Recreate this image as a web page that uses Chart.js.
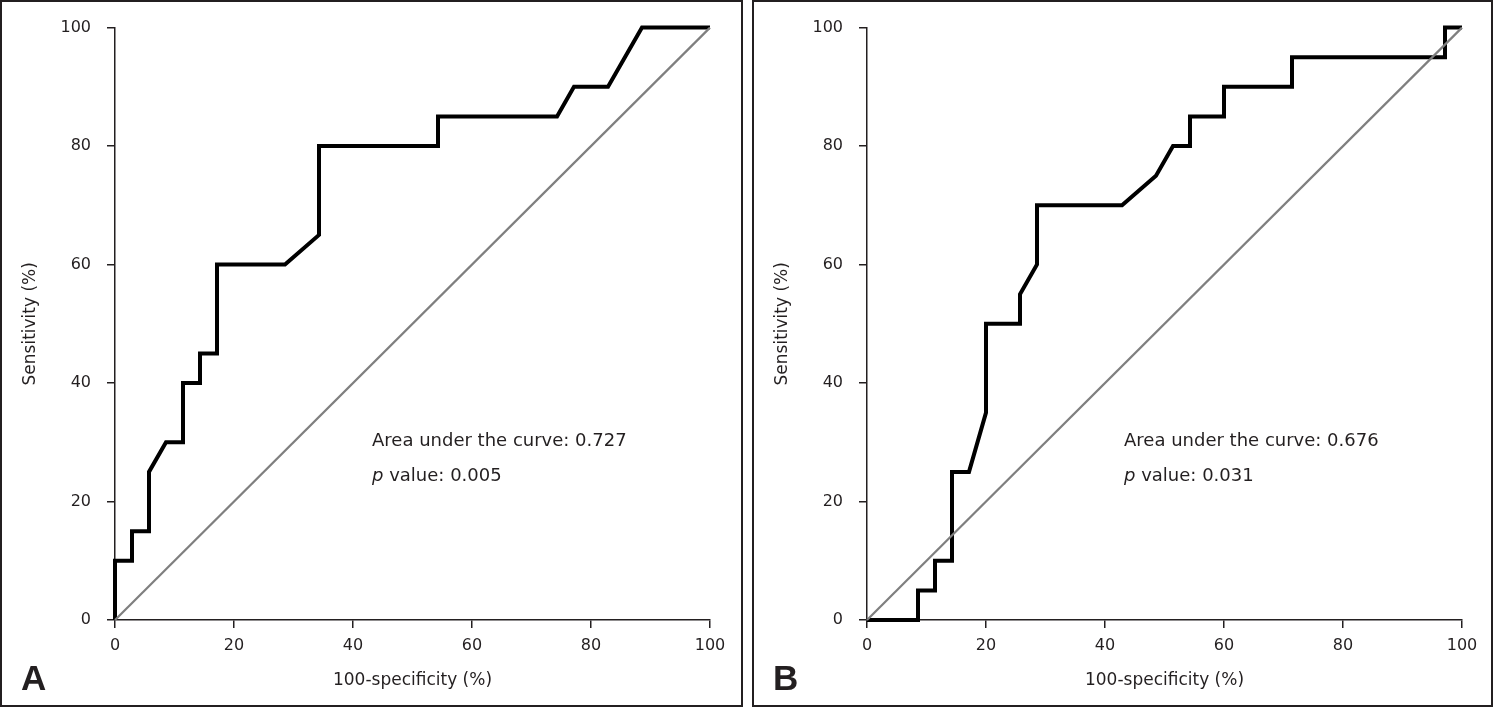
<!DOCTYPE html>
<html lang="en">
<head>
    <meta charset="UTF-8">
    <title>ROC curves A and B</title>
    <script src="https://cdn.jsdelivr.net/npm/chart.js"></script>
    <style>
        body { margin: 0; background: #fff; }
        .panel { position: absolute; top: 0; height: 703px; border: 2px solid #231f20; background: #fff; }
        .panel canvas { display: block; }
        .tag { position: absolute; font: bold 35px "Liberation Sans", Arial, sans-serif; line-height: 35px; color: #231f20; }
    </style>
</head>
<body>
    <div class="panel" id="panelA" style="left:0; width:739px;">
        <canvas id="rocA" width="739" height="703"></canvas>
    </div>
    <div class="panel" id="panelB" style="left:752px; width:737px;">
        <canvas id="rocB" width="737" height="703"></canvas>
    </div>
    <div class="tag" style="left:21px; top:660px;">A</div>
    <div class="tag" style="left:773px; top:660px;">B</div>

    <script>
        // ROC curve A (100-specificity %, sensitivity %)
        const rocA_fpr = [0, 0, 2.86, 2.86, 5.71, 5.71, 8.57, 11.43, 11.43, 14.29, 14.29, 17.14, 17.14, 28.57, 34.29, 34.29, 54.29, 54.29, 74.29, 77.14, 82.86, 88.57, 100];
        const rocA_tpr = [0, 10, 10, 15, 15, 25, 30, 30, 40, 40, 45, 45, 60, 60, 65, 80, 80, 85, 85, 90, 90, 100, 100];

        // ROC curve B
        const rocB_fpr = [0, 8.57, 8.57, 11.43, 11.43, 14.29, 14.29, 17.14, 20, 20, 25.71, 25.71, 28.57, 28.57, 42.86, 48.57, 51.43, 54.29, 54.29, 60, 60, 71.43, 71.43, 97.14, 97.14, 100];
        const rocB_tpr = [0, 0, 5, 5, 10, 10, 25, 25, 35, 50, 50, 55, 60, 70, 70, 75, 80, 80, 85, 85, 90, 90, 95, 95, 100, 100];

        // reference line
        const chanceX = [0, 100];
        const chanceY = [0, 100];

        const axisTicks = [0, 20, 40, 60, 80, 100];

        const notesA = { auc: '0.727', p: '0.005' };
        const notesB = { auc: '0.676', p: '0.031' };

        const ink = '#231f20';
        const font = '"DejaVu Sans", sans-serif';

        function toPoints(xs, ys) {
            return xs.map((x, i) => ({ x: x, y: ys[i] }));
        }

        // writes the AUC / p value lines inside the plot
        const notePlugin = {
            id: 'rocNote',
            afterDatasetsDraw(chart, args, opts) {
                const c = chart.ctx;
                const xs = chart.scales.x, ys = chart.scales.y;
                const left = xs.getPixelForValue(43.2);
                c.save();
                c.fillStyle = ink;
                c.textBaseline = 'alphabetic';
                c.textAlign = 'left';
                c.font = '18px ' + font;
                c.fillText('Area under the curve: ' + opts.auc, left, ys.getPixelForValue(29.3));
                const y2 = ys.getPixelForValue(23.5);
                c.font = 'italic 18px ' + font;
                c.fillText('p', left, y2);
                const w = c.measureText('p').width;
                c.font = '18px ' + font;
                c.fillText(' value: ' + opts.p, left + w, y2);
                c.restore();
            }
        };

        function makeChart(id, fpr, tpr, notes, rightPad) {
            return new Chart(document.getElementById(id), {
                type: 'line',
                data: {
                    datasets: [
                        {
                            label: 'Reference',
                            data: toPoints(chanceX, chanceY),
                            borderColor: '#7f7f7f',
                            borderWidth: 2.2,
                            pointRadius: 0,
                            clip: 6
                        },
                        {
                            label: 'ROC',
                            data: toPoints(fpr, tpr),
                            borderColor: '#000',
                            borderWidth: 4,
                            borderJoinStyle: 'miter',
                            pointRadius: 0,
                            tension: 0,
                            clip: 6
                        }
                    ]
                },
                options: {
                    responsive: false,
                    animation: false,
                    layout: { padding: { top: 24, right: rightPad, left: 0, bottom: 0 } },
                    plugins: {
                        legend: { display: false },
                        tooltip: { enabled: false },
                        rocNote: notes
                    },
                    scales: {
                        x: {
                            type: 'linear',
                            min: 0, max: 100,
                            afterBuildTicks: s => { s.ticks = axisTicks.map(v => ({ value: v })); },
                            afterFit: s => { s.height = 85; },
                            grid: { drawOnChartArea: false, drawTicks: true, tickLength: 8, color: ink, lineWidth: 1.5 },
                            border: { color: ink, width: 1.5 },
                            ticks: { color: ink, padding: 8, font: { family: font, size: 16 }, maxRotation: 0 },
                            title: { display: true, text: '100-specificity (%)', color: ink, font: { family: font, size: 17 }, padding: { top: 0, bottom: 14 } }
                        },
                        y: {
                            type: 'linear',
                            min: 0, max: 100,
                            afterBuildTicks: s => { s.ticks = axisTicks.map(v => ({ value: v })); },
                            afterFit: s => { s.width = 113; },
                            grid: { drawOnChartArea: false, drawTicks: true, tickLength: 8, color: ink, lineWidth: 1.5 },
                            border: { color: ink, width: 1.5 },
                            ticks: { color: ink, padding: 16, font: { family: font, size: 16 } },
                            title: { display: true, text: 'Sensitivity (%)', color: ink, font: { family: font, size: 17 }, padding: { top: 18, bottom: 0 } }
                        }
                    }
                },
                plugins: [notePlugin]
            });
        }

        makeChart('rocA', rocA_fpr, rocA_tpr, notesA, 31);
        makeChart('rocB', rocB_fpr, rocB_tpr, notesB, 29);
    </script>
</body>
</html>
